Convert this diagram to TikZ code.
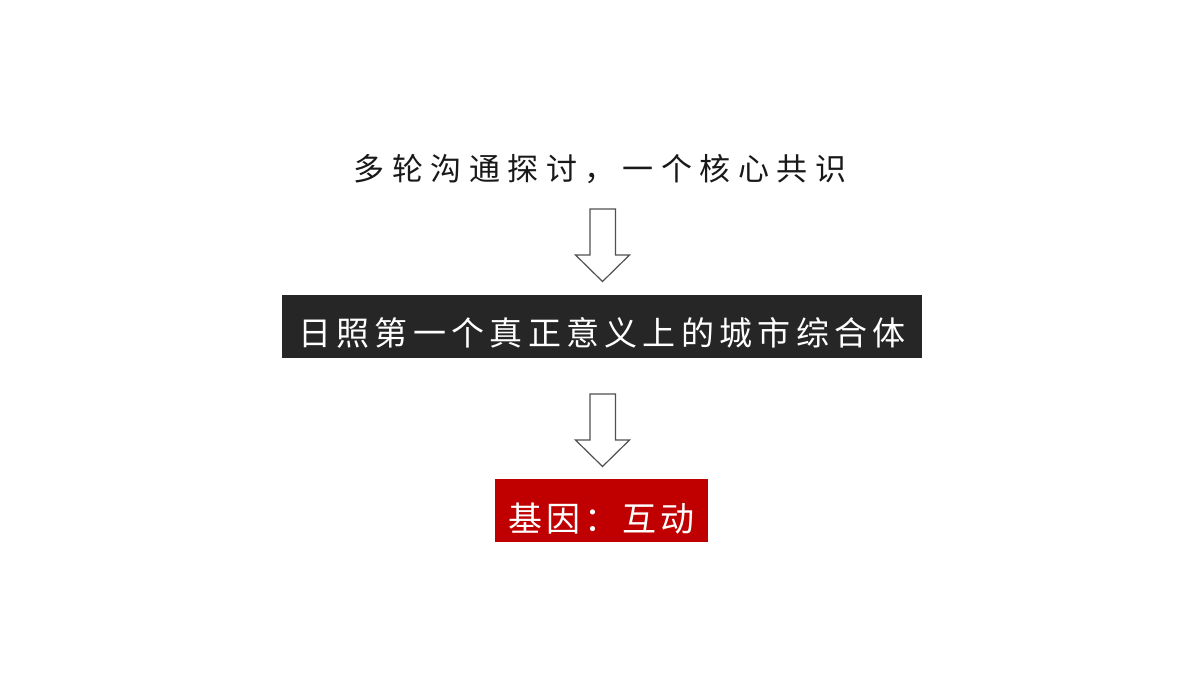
\documentclass[tikz,border=0pt]{standalone}
\usepackage{fontspec}
\newfontfamily\cjk{Noto Sans CJK SC}
\definecolor{boxdark}{HTML}{262626}
\definecolor{boxred}{HTML}{C00000}
\definecolor{arrowgray}{HTML}{505050}
\begin{document}
\begin{tikzpicture}[
    x=1pt, y=-1pt,
    plaintext/.style={inner sep=0, text=black!90, font=\cjk\fontsize{31}{34}\selectfont\addfontfeatures{LetterSpace=24}},
    boxtext/.style={inner sep=0, text=white, font=\cjk\fontsize{33}{36}\selectfont\addfontfeatures{LetterSpace=16}},
    darkbox/.style={rectangle, fill=boxdark, inner sep=0, minimum width=640pt, minimum height=63pt},
    redbox/.style={rectangle, fill=boxred, inner sep=0, minimum width=213pt, minimum height=63pt},
    hollow/.style={draw=arrowgray, line width=1.2pt, fill=white, line join=miter}
]
    \useasboundingbox (0,0) rectangle (1200,673);

    % first line
    \node[plaintext] (talks) at (600,169) {多轮沟通探讨，一个核心共识};

    % black band
    \node[darkbox] (cityband) at (602,326.5) {};
    \node[boxtext] (citytext) at ([yshift=-6.5pt]cityband.center) {日照第一个真正意义上的城市综合体};

    % red band
    \node[redbox] (geneband) at (601.5,510.5) {};
    \node[boxtext, font=\cjk\fontsize{34}{36}\selectfont\addfontfeatures{LetterSpace=12}] (genetext) at ([yshift=-8pt]geneband.center) {基因：互动};

    % hollow arrows
    \foreach \t in {209,394}
        \draw[hollow] (590,\t) -- ++(25.5,0) -- ++(0,46) -- ++(14,0) -- ++(-27,26.5) -- ++(-27,-26.5) -- ++(14.5,0) -- cycle;
\end{tikzpicture}
\end{document}
